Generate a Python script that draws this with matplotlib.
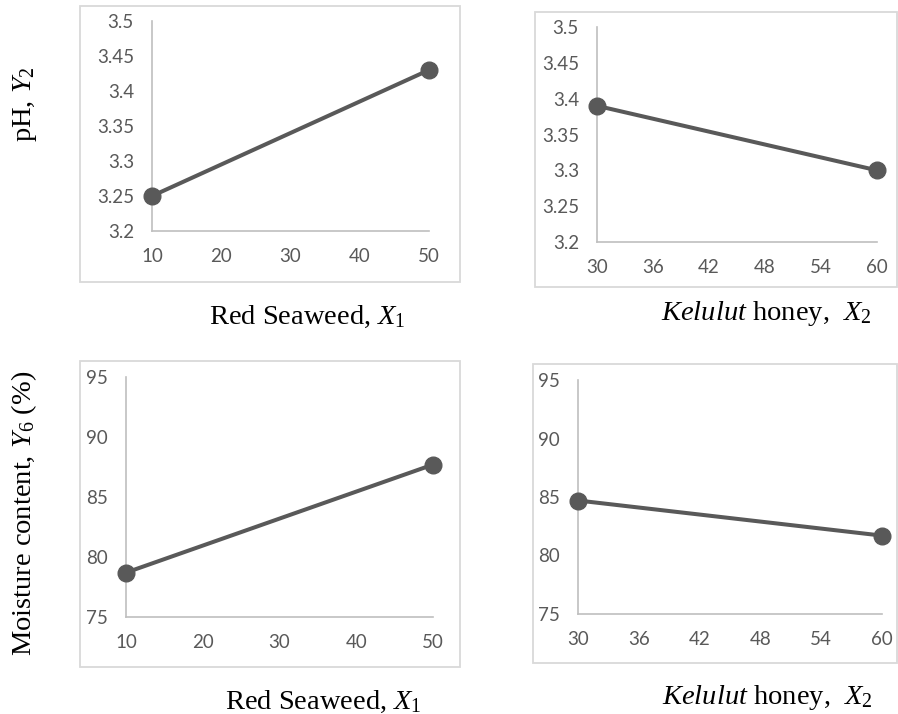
import matplotlib
matplotlib.use("Agg")
import matplotlib.pyplot as plt
from matplotlib.patches import Rectangle

plt.rcParams['mathtext.fontset'] = 'custom'
plt.rcParams['mathtext.rm'] = 'Liberation Serif'
plt.rcParams['mathtext.it'] = 'Liberation Serif:italic'

# data
seaweed_x = [10, 50]
honey_x = [30, 60]
ph_seaweed = [3.25, 3.43]
ph_honey = [3.39, 3.30]
moist_seaweed = [78.7, 87.7]
moist_honey = [84.7, 81.7]

seaweed_ticks = [10, 20, 30, 40, 50]
honey_ticks = [30, 36, 42, 48, 54, 60]
ph_ticks = [3.2, 3.25, 3.3, 3.35, 3.4, 3.45, 3.5]
ph_labels = ['3.2', '3.25', '3.3', '3.35', '3.4', '3.45', '3.5']
moist_ticks = [75, 80, 85, 90, 95]

W, H = 898, 714
fig = plt.figure(figsize=(W / 100, H / 100), dpi=100)

line_c = '#595959'
axis_c = '#bfbfbf'
box_c = '#d9d9d9'
serif = 'Liberation Serif'


def px_rect(x0, x1, ytop, ybot):
    return [x0 / W, 1 - ybot / H, (x1 - x0) / W, (ybot - ytop) / H]


def box(x0, x1, ytop, ybot):
    fig.patches.append(Rectangle((x0 / W, 1 - ybot / H), (x1 - x0) / W, (ybot - ytop) / H,
                                 transform=fig.transFigure, fill=False,
                                 edgecolor=box_c, linewidth=1.3))


def panel(rect, x, y, xticks, yticks, ylabels=None):
    ax = fig.add_axes(rect)
    ax.plot(x, y, color=line_c, lw=2.9, marker='o', ms=12, clip_on=False, zorder=5)
    ax.set_xlim(xticks[0], xticks[-1])
    ax.set_ylim(yticks[0], yticks[-1])
    ax.set_xticks(xticks)
    ax.set_yticks(yticks)
    if ylabels is not None:
        ax.set_yticklabels(ylabels)
    for s in ['top', 'right']:
        ax.spines[s].set_visible(False)
    for s in ['left', 'bottom']:
        ax.spines[s].set_color(axis_c)
        ax.spines[s].set_linewidth(1.2)
    ax.tick_params(axis='y', length=0, pad=13, labelsize=13.5, labelcolor=line_c)
    ax.tick_params(axis='x', length=0, pad=12, labelsize=13.5, labelcolor=line_c)
    for t in ax.get_xticklabels() + ax.get_yticklabels():
        t.set_family('Lato')
    return ax


box(80, 460, 6, 282)
box(535, 897, 12, 287)
box(80, 460, 361, 667)
box(533, 897, 364, 663)

panel(px_rect(152, 429, 21, 231), seaweed_x, ph_seaweed, seaweed_ticks, ph_ticks, ph_labels)
panel(px_rect(597, 877, 27, 242), honey_x, ph_honey, honey_ticks, ph_ticks, ph_labels)
panel(px_rect(126, 433, 377, 617), seaweed_x, moist_seaweed, seaweed_ticks, moist_ticks)
panel(px_rect(578, 882, 380, 614), honey_x, moist_honey, honey_ticks, moist_ticks)

lab = dict(family=serif, fontsize=20.5, color='black', ha='center', va='center')
fig.text(307 / W, 1 - 317 / H, r'Red Seaweed, $X_{\mathit{1}}$', **lab)
fig.text(766 / W, 1 - 313 / H, r'$\mathit{Kelulut}$ honey,  $X_{2}$', **lab)
fig.text(323 / W, 1 - 702 / H, r'Red Seaweed, $X_{\mathit{1}}$', **lab)
fig.text(767 / W, 1 - 698 / H, r'$\mathit{Kelulut}$ honey,  $X_{2}$', **lab)
fig.text(25 / W, 1 - 104 / H, r'pH, $Y_{2}$', rotation=90, **lab)
fig.text(24 / W, 1 - 513 / H, r'Moisture content, $Y_{\mathit{6}}$ (%)', rotation=90, **lab)

fig.savefig('out.png', dpi=100)
